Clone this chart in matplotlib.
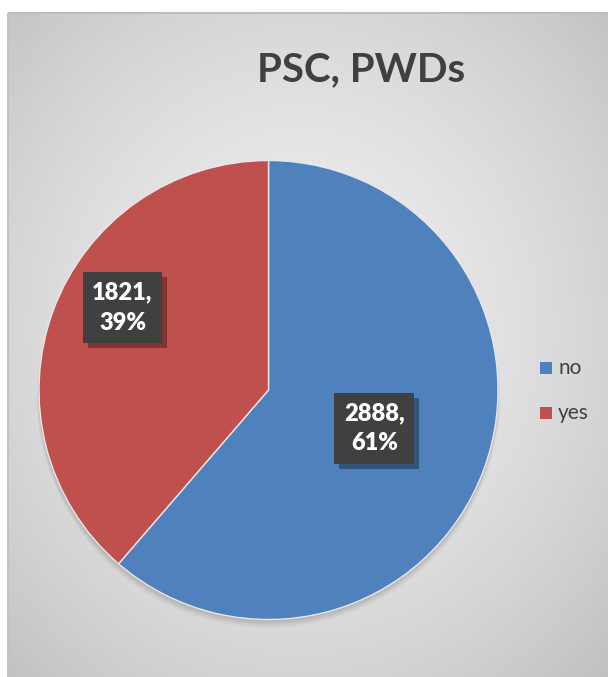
import numpy as np
import matplotlib
matplotlib.use("Agg")
import matplotlib.pyplot as plt
from matplotlib.patches import Rectangle
from matplotlib.transforms import IdentityTransform

# Data
categories = ["no", "yes"]
counts = [2888, 1821]
colors = ["#4f81bd", "#c0504d"]
title = "PSC, PWDs"

W, H = 608, 677
fig = plt.figure(figsize=(W / 100, H / 100), dpi=100)
fig.patch.set_facecolor("white")

# Chart-area background: radial grey gradient
bg = fig.add_axes([0, 0, 1, 1])
bg.set_xlim(0, W)
bg.set_ylim(H, 0)
bg.axis("off")
yy, xx = np.mgrid[0:H, 0:W]
cx, cy = 300, 330
d = np.sqrt(((xx - cx) / 420.0) ** 2 + ((yy - cy) / 470.0) ** 2)
val = 0.935 - 0.17 * np.clip(d, 0, 1.2) ** 1.6
img = np.ones((H, W, 3))
inside = (xx >= 8) & (yy >= 13)
for c in range(3):
    ch = img[:, :, c]
    ch[inside] = val[inside]
img[12:14, 8:, :] = 0.74
img[13:, 7:9, :] = 0.76
bg.imshow(img, extent=(0, W, H, 0), interpolation="bilinear", zorder=0)

# Pie
pcx, pcy, r = 268.5, 390, 229.5
ax = fig.add_axes([(pcx - r) / W, (H - pcy - r) / H, 2 * r / W, 2 * r / H])

wedges, _ = ax.pie(counts, colors=colors, startangle=90, counterclock=False,
                   radius=1.0, wedgeprops=dict(linewidth=1.0, edgecolor="#e8e8e8"))
ax.set_xlim(-1, 1)
ax.set_ylim(-1, 1)
ax.set_aspect("equal")
ax.axis("off")
for w in wedges:
    w.set_zorder(2)

# soft shadow under the pie
for i, a in enumerate([0.05, 0.05, 0.04, 0.03]):
    ax.add_patch(plt.Circle((0, -0.010 - 0.006 * i), 1.0 + 0.003 * i,
                            color="black", alpha=a, lw=0, zorder=1, clip_on=False))

total = sum(counts)
dists = [0.49, 0.73]
angle_adj = [0.5, -9.0]
labels = []
for w, n, dist, adj in zip(wedges, counts, dists, angle_adj):
    ang = np.deg2rad((w.theta1 + w.theta2) / 2 + adj)
    x, y = dist * np.cos(ang), dist * np.sin(ang)
    label = f"{n},\n{round(100 * n / total)}%"
    t = ax.text(x, y, label, ha="center", va="center", multialignment="center",
                fontsize=17, fontweight="heavy", family="Lato", color="white",
                linespacing=1.45, zorder=4,
                bbox=dict(boxstyle="square,pad=0.4", fc="#404040", ec="none"))
    labels.append(t)

# drop shadows behind the label boxes, placed in display pixels
fig.canvas.draw()
for t in labels:
    ext = t.get_bbox_patch().get_window_extent()
    sh = Rectangle((ext.x0 + 5, ext.y0 - 5), ext.width, ext.height,
                   fc="black", alpha=0.35, ec="none", zorder=3)
    ax.add_artist(sh)
    sh.set_transform(IdentityTransform())
    sh.set_clip_on(False)

# Title
fig.text(361.5 / W, 1 - 70 / H, title, ha="center", va="center", fontsize=29,
         fontweight="bold", family="Lato", color="#404040")

# Legend
for i, (cat, col) in enumerate(zip(categories, colors)):
    ly = 368 + 45 * i
    bg.add_patch(Rectangle((540, ly - 6), 12, 12, fc=col, ec="none", zorder=5))
    bg.text(558, ly, cat, ha="left", va="center", fontsize=15, family="Lato",
            color="#404040", zorder=5)

fig.savefig("out.png", dpi=100)
